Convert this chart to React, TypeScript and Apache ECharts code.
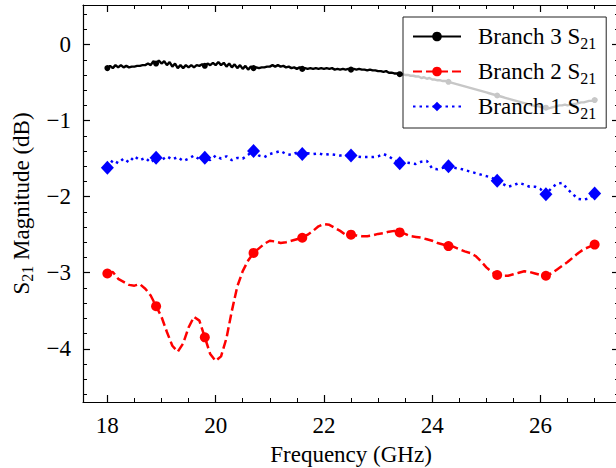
import React, { useEffect, useRef } from "react";
import * as echarts from "echarts";

// Frequency sweep: start and step of each measured trace (GHz)
const F_START = 18;
const STEP_B3 = 0.05;
const STEP_B12 = 0.1;
const MARK_EVERY_B3 = 18; // markers every 0.9 GHz
const MARK_EVERY_B12 = 9; // markers every 0.9 GHz

const seriesNames = ["Branch 3 S21", "Branch 2 S21", "Branch 1 S21"];

// Branch 3 S21 (dB), 18.00 .. 27.00 GHz, 0.05 GHz step
const branch3 = [
  -0.31, -0.28, -0.31, -0.27, -0.30, -0.27, -0.30, -0.28, -0.30, -0.29,
  -0.29, -0.28, -0.28, -0.27, -0.27, -0.25, -0.27, -0.22, -0.25, -0.21,
  -0.25, -0.22, -0.27, -0.23, -0.29, -0.25, -0.31, -0.27, -0.31, -0.27,
  -0.30, -0.27, -0.30, -0.27, -0.28, -0.26, -0.28, -0.25, -0.27, -0.24,
  -0.27, -0.23, -0.27, -0.24, -0.29, -0.25, -0.30, -0.26, -0.31, -0.27,
  -0.32, -0.28, -0.33, -0.29, -0.31, -0.30, -0.31, -0.30, -0.30, -0.29,
  -0.29, -0.27, -0.29, -0.27, -0.29, -0.28, -0.30, -0.29, -0.31, -0.30,
  -0.32, -0.30, -0.32, -0.31, -0.32, -0.31, -0.32, -0.31, -0.32, -0.31,
  -0.32, -0.31, -0.32, -0.31, -0.33, -0.32, -0.33, -0.32, -0.33, -0.32,
  -0.33, -0.32, -0.33, -0.32, -0.33, -0.33, -0.34, -0.33, -0.34, -0.34,
  -0.35, -0.35, -0.36, -0.35, -0.37, -0.37, -0.38, -0.38, -0.39, -0.39,
  -0.40, -0.40, -0.41, -0.41, -0.42, -0.42, -0.44, -0.43, -0.45, -0.44,
  -0.46, -0.46, -0.47, -0.47, -0.48, -0.48, -0.49, -0.50, -0.51, -0.52,
  -0.53, -0.54, -0.55, -0.56, -0.57, -0.58, -0.59, -0.60, -0.61, -0.62,
  -0.63, -0.64, -0.65, -0.66, -0.67, -0.68, -0.69, -0.70, -0.71, -0.72,
  -0.73, -0.74, -0.75, -0.76, -0.77, -0.78, -0.79, -0.80, -0.81, -0.81,
  -0.82, -0.83, -0.83, -0.84, -0.83, -0.82, -0.81, -0.80, -0.80, -0.79,
  -0.80, -0.79, -0.78, -0.78, -0.77, -0.76, -0.76, -0.75, -0.74, -0.74,
  -0.73, -0.72,
];

// Branch 2 S21 (dB), 18.0 .. 27.0 GHz, 0.1 GHz step
const branch2 = [
  -3.01, -2.99, -3.08, -3.12, -3.16, -3.17, -3.15, -3.21, -3.30, -3.44,
  -3.58, -3.78, -3.96, -4.04, -3.93, -3.72, -3.58, -3.63, -3.85, -4.07,
  -4.16, -4.10, -3.86, -3.50, -3.18, -2.98, -2.84, -2.74, -2.68, -2.62,
  -2.58, -2.59, -2.61, -2.60, -2.58, -2.56, -2.54, -2.50, -2.45, -2.39,
  -2.36, -2.37, -2.41, -2.45, -2.50, -2.50, -2.51, -2.52, -2.52, -2.51,
  -2.49, -2.48, -2.46, -2.45, -2.47, -2.49, -2.52, -2.53, -2.54, -2.56,
  -2.58, -2.61, -2.63, -2.65, -2.66, -2.69, -2.72, -2.74, -2.78, -2.85,
  -2.93, -2.99, -3.03, -3.04, -3.04, -3.02, -3.00, -2.98, -2.99, -3.01,
  -3.03, -3.04, -3.01, -2.96, -2.91, -2.86, -2.80, -2.74, -2.69, -2.66,
  -2.63,
];

// Branch 1 S21 (dB), 18.0 .. 27.0 GHz, 0.1 GHz step
const branch1 = [
  -1.62, -1.52, -1.56, -1.50, -1.55, -1.47, -1.52, -1.49, -1.55, -1.49,
  -1.52, -1.47, -1.51, -1.48, -1.53, -1.50, -1.46, -1.51, -1.49, -1.52,
  -1.46, -1.50, -1.47, -1.52, -1.49, -1.50, -1.45, -1.40, -1.46, -1.48,
  -1.44, -1.42, -1.40, -1.44, -1.45, -1.42, -1.44, -1.43, -1.44, -1.43,
  -1.45, -1.44, -1.45, -1.46, -1.46, -1.46, -1.47, -1.48, -1.48, -1.48,
  -1.47, -1.44, -1.47, -1.52, -1.56, -1.55, -1.56, -1.57, -1.54, -1.53,
  -1.63, -1.64, -1.62, -1.60, -1.62, -1.63, -1.65, -1.67, -1.69, -1.71,
  -1.73, -1.75, -1.79, -1.83, -1.87, -1.85, -1.82, -1.84, -1.87, -1.87,
  -1.90, -1.97, -1.89, -1.83, -1.82, -1.90, -1.97, -2.03, -2.04, -2.02,
  -1.96,
];

const xMajorTicks = [18, 20, 22, 24, 26];
const xMinorTicks = [
  18.5, 19, 19.5, 20.5, 21, 21.5, 22.5, 23, 23.5, 24.5, 25, 25.5, 26.5, 27,
];
const yMajorTicks = [-4, -3, -2, -1, 0];
const yMinorTicks = [
  -4.6, -4.4, -4.2, -3.8, -3.6, -3.4, -3.2, -2.8, -2.6, -2.4, -2.2, -1.8,
  -1.6, -1.4, -1.2, -0.8, -0.6, -0.4, -0.2, 0.2, 0.4,
];

const X_MIN = 17.55;
const X_MAX = 27.45;
const Y_MIN = -4.7;
const Y_MAX = 0.52;

const FONT = "'Liberation Serif', 'Times New Roman', serif";
const FS = 23;

function toData(vals: number[], step: number, every: number) {
  return vals.map((v, i) => ({
    value: [Math.round((F_START + i * step) * 100) / 100, v],
    symbol: i % every === 0 ? undefined : "none",
  }));
}

const subRich = {
  sub: {
    fontFamily: FONT,
    fontSize: 16,
    lineHeight: 16,
    padding: [10, 0, 0, 0],
    verticalAlign: "top",
    color: "#000",
  },
};

function richName(name: string) {
  return name.replace("S21", "S{sub|21}");
}

export default function App() {
  const ref = useRef<HTMLDivElement>(null);
  useEffect(() => {
    if (!ref.current) return;
    const chart = echarts.init(ref.current, null, { renderer: "svg" });

    const lineStyle = { color: "#000", width: 1.2 };

    const makeAxis = (
      position: string,
      min: number,
      max: number,
      major: boolean,
      ticks: number[],
      showLine: boolean
    ) => ({
      type: "value",
      position,
      min,
      max,
      splitLine: { show: false },
      axisLine: { show: showLine, onZero: false, lineStyle },
      axisTick: {
        show: true,
        inside: true,
        length: major ? 7 : 4,
        customValues: ticks,
        lineStyle: { color: "#000", width: major ? 1.2 : 1 },
      },
      axisLabel: { show: false },
    });

    const xAxes: any[] = [
      {
        ...makeAxis("bottom", X_MIN, X_MAX, true, xMajorTicks, true),
        axisLabel: {
          show: true,
          customValues: xMajorTicks,
          margin: 12,
          fontFamily: FONT,
          fontSize: FS,
          color: "#000",
        },
        name: "Frequency (GHz)",
        nameLocation: "middle",
        nameGap: 41,
        nameTextStyle: { fontFamily: FONT, fontSize: FS, color: "#000" },
      },
      makeAxis("bottom", X_MIN, X_MAX, false, xMinorTicks, false),
      makeAxis("top", X_MIN, X_MAX, true, xMajorTicks, true),
      makeAxis("top", X_MIN, X_MAX, false, xMinorTicks, false),
    ];

    const yAxes: any[] = [
      {
        ...makeAxis("left", Y_MIN, Y_MAX, true, yMajorTicks, true),
        axisLabel: {
          show: true,
          customValues: yMajorTicks,
          margin: 12,
          fontFamily: FONT,
          fontSize: FS,
          color: "#000",
          formatter: (v: number) => String(v).replace("-", "\u2212"),
        },
        name: "S{sub|21} Magnitude (dB)",
        nameLocation: "middle",
        nameGap: 47,
        nameTextStyle: {
          fontFamily: FONT,
          fontSize: FS,
          color: "#000",
          rich: subRich,
        },
      },
      makeAxis("left", Y_MIN, Y_MAX, false, yMinorTicks, false),
      makeAxis("right", Y_MIN, Y_MAX, true, yMajorTicks, true),
      makeAxis("right", Y_MIN, Y_MAX, false, yMinorTicks, false),
    ];

    chart.setOption({
      animation: false,
      backgroundColor: "#fff",
      grid: {
        left: 83,
        top: 5,
        width: 536,
        height: 397,
        containLabel: false,
        outerBoundsMode: "none",
      },
      xAxis: xAxes,
      yAxis: yAxes,
      legend: {
        orient: "vertical",
        left: 403,
        top: 17,
        data: seriesNames,
        itemWidth: 48,
        itemHeight: 12,
        itemGap: 9,
        padding: [8, 10, 7, 9],
        backgroundColor: "rgba(255,255,255,0.78)",
        borderColor: "#222",
        borderWidth: 1,
        borderRadius: 0,
        formatter: richName,
        textStyle: {
          fontFamily: FONT,
          fontSize: FS,
          color: "#000",
          padding: [0, 0, 0, 12],
          rich: subRich,
        },
      },
      series: [
        {
          name: seriesNames[2],
          type: "line",
          data: toData(branch1, STEP_B12, MARK_EVERY_B12),
          symbol: "diamond",
          symbolSize: [13, 14],
          showAllSymbol: true,
          itemStyle: { color: "#0000ff" },
          lineStyle: { color: "#0000ff", width: 2.5, type: [2.5, 4] },
          z: 2,
        },
        {
          name: seriesNames[1],
          type: "line",
          data: toData(branch2, STEP_B12, MARK_EVERY_B12),
          symbol: "circle",
          symbolSize: 10,
          showAllSymbol: true,
          itemStyle: { color: "#ff0000" },
          lineStyle: { color: "#ff0000", width: 2.5, type: [9, 4] },
          z: 2,
        },
        {
          name: seriesNames[0],
          type: "line",
          data: toData(branch3, STEP_B3, MARK_EVERY_B3),
          symbol: "circle",
          symbolSize: 6,
          showAllSymbol: true,
          itemStyle: { color: "#000" },
          lineStyle: { color: "#000", width: 2.4 },
          z: 2,
        },
      ],
    });
    return () => chart.dispose();
  }, []);

  return (
    <div
      ref={ref}
      style={{ position: "fixed", left: 0, top: 0, width: 616, height: 468 }}
    />
  );
}
